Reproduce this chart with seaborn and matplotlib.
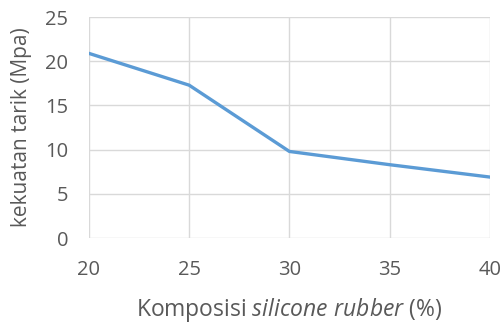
import pandas as pd
import matplotlib.pyplot as plt
import seaborn as sns

komposisi = [20, 25, 30, 35, 40]
kekuatan = [20.9, 17.3, 9.8, 8.3, 6.9]

df = pd.DataFrame({"komposisi": komposisi, "kekuatan": kekuatan})

sns.set_style("white")
plt.rcParams["font.family"] = ["Open Sans", "DejaVu Sans"]
plt.rcParams["mathtext.fontset"] = "custom"
plt.rcParams["mathtext.rm"] = "Open Sans"
plt.rcParams["mathtext.it"] = "Open Sans:italic"

fig = plt.figure(figsize=(5.02, 3.23), dpi=100)
ax = fig.add_axes([0.177, 0.263, 0.799, 0.684])

sns.lineplot(data=df, x="komposisi", y="kekuatan", color="#5B9BD5", linewidth=2.4, ax=ax)

ax.set_xlim(20, 40)
ax.set_ylim(0, 25)
ax.set_xticks([20, 25, 30, 35, 40])
ax.set_yticks([0, 5, 10, 15, 20, 25])
ax.grid(True, color="#D9D9D9", linewidth=1)
ax.set_axisbelow(True)
for side in ["top", "right", "left", "bottom"]:
    ax.spines[side].set_visible(False)
ax.tick_params(axis="both", length=0, labelsize=14.5, colors="#595959")
ax.tick_params(axis="x", pad=16)
ax.tick_params(axis="y", pad=15)

ax.set_xlabel("Komposisi $\\it{silicone\\ rubber}$ (%)", fontsize=16.5, color="#595959", labelpad=11)
ax.set_ylabel("kekuatan tarik (Mpa)", fontsize=15, color="#595959", labelpad=9)

fig.savefig("out.png", dpi=100)
